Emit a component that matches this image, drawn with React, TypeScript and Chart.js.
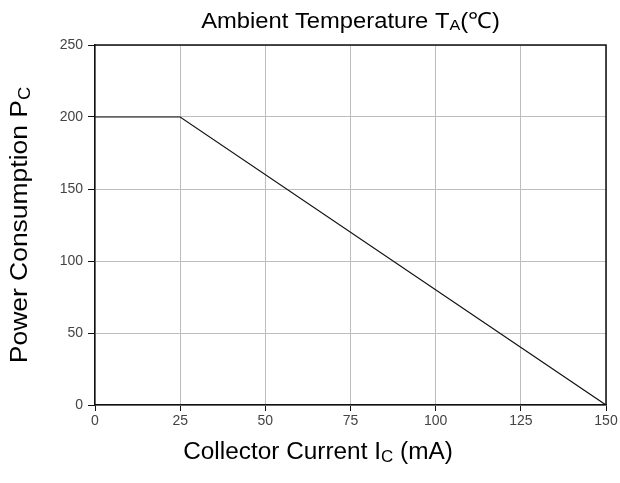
import React, { useEffect, useRef } from "react";
import { Chart, registerables } from "chart.js";

Chart.register(...registerables);

const currentValues = [0, 25, 150];
const powerValues = [200, 200, 0];
const xTickStep = 25;
const yTickStep = 50;
const xMax = 150;
const yMax = 250;

const FONT = "'Liberation Sans', Arial, Helvetica, sans-serif";

type Part = { text: string; size: number; dy: number };

function measureParts(ctx: CanvasRenderingContext2D, parts: Part[]) {
  let w = 0;
  for (const p of parts) {
    ctx.font = `${p.size}px ${FONT}`;
    w += ctx.measureText(p.text).width;
  }
  return w;
}

function drawParts(
  ctx: CanvasRenderingContext2D,
  parts: Part[],
  cx: number,
  baseline: number,
  sx: number
) {
  ctx.save();
  ctx.translate(cx, baseline);
  ctx.scale(sx, 1);
  const total = measureParts(ctx, parts);
  let x = -total / 2;
  ctx.textBaseline = "alphabetic";
  ctx.textAlign = "left";
  for (const p of parts) {
    ctx.font = `${p.size}px ${FONT}`;
    ctx.fillText(p.text, x, p.dy);
    x += ctx.measureText(p.text).width;
  }
  ctx.restore();
}

const titlesPlugin = {
  id: "customTitles",
  afterDraw(chart: any) {
    const ctx: CanvasRenderingContext2D = chart.ctx;
    const area = chart.chartArea;
    ctx.save();
    // frame on top and right
    ctx.strokeStyle = "#111";
    ctx.lineWidth = 1.5;
    ctx.beginPath();
    ctx.moveTo(area.left, area.top);
    ctx.lineTo(area.right, area.top);
    ctx.lineTo(area.right, area.bottom);
    ctx.stroke();

    ctx.fillStyle = "#000";
    drawParts(
      ctx,
      [
        { text: "Ambient Temperature T", size: 22, dy: 0 },
        { text: "A", size: 15, dy: 2 },
        { text: "(℃)", size: 22, dy: 0 },
      ],
      (area.left + area.right) / 2,
      28,
      1.08
    );
    drawParts(
      ctx,
      [
        { text: "Collector Current I", size: 23, dy: 0 },
        { text: "C", size: 16, dy: 3 },
        { text: " (mA)", size: 23, dy: 0 },
      ],
      318,
      459,
      1.06
    );
    ctx.translate(27, (area.top + area.bottom) / 2);
    ctx.rotate(-Math.PI / 2);
    drawParts(
      ctx,
      [
        { text: "Power Consumption P", size: 23, dy: 0 },
        { text: "C", size: 16, dy: 3 },
      ],
      0,
      0,
      1.15
    );
    ctx.restore();
  },
};

export default function App() {
  const ref = useRef<HTMLCanvasElement | null>(null);
  useEffect(() => {
    if (!ref.current) return;
    const chart = new Chart(ref.current, {
      type: "scatter",
      data: {
        datasets: [
          {
            data: currentValues.map((x, i) => ({ x, y: powerValues[i] })),
            showLine: true,
            borderColor: "#111",
            borderWidth: 1.2,
            pointRadius: 0,
            fill: false,
          },
        ],
      },
      options: {
        animation: false,
        responsive: false,
        maintainAspectRatio: false,
        layout: { padding: { top: 45, right: 14, left: 0, bottom: 0 } },
        plugins: { legend: { display: false }, tooltip: { enabled: false }, title: { display: false } },
        scales: {
          x: {
            type: "linear",
            min: 0,
            max: xMax,
            afterFit: (s: any) => {
              s.height = 78;
            },
            ticks: {
              stepSize: xTickStep,
              color: "#444",
              font: { family: FONT, size: 14 },
              padding: 2,
              maxRotation: 0,
            },
            grid: { color: "#bdbdbd", lineWidth: 1, tickColor: "#111", tickLength: 6 },
            border: { display: true, color: "#111", width: 1.5 },
          },
          y: {
            type: "linear",
            min: 0,
            max: yMax,
            afterFit: (s: any) => {
              s.width = 95;
            },
            ticks: {
              stepSize: yTickStep,
              color: "#444",
              font: { family: FONT, size: 14 },
              padding: 5,
            },
            grid: { color: "#bdbdbd", lineWidth: 1, tickColor: "#111", tickLength: 7 },
            border: { display: true, color: "#111", width: 1.5 },
          },
        },
      },
      plugins: [titlesPlugin],
    });
    return () => chart.destroy();
  }, []);
  return (
    <div style={{ position: "fixed", left: 0, top: 0, width: 620, height: 483, background: "#fff" }}>
      <canvas ref={ref} width={620} height={483} style={{ width: 620, height: 483, display: "block" }} />
    </div>
  );
}
